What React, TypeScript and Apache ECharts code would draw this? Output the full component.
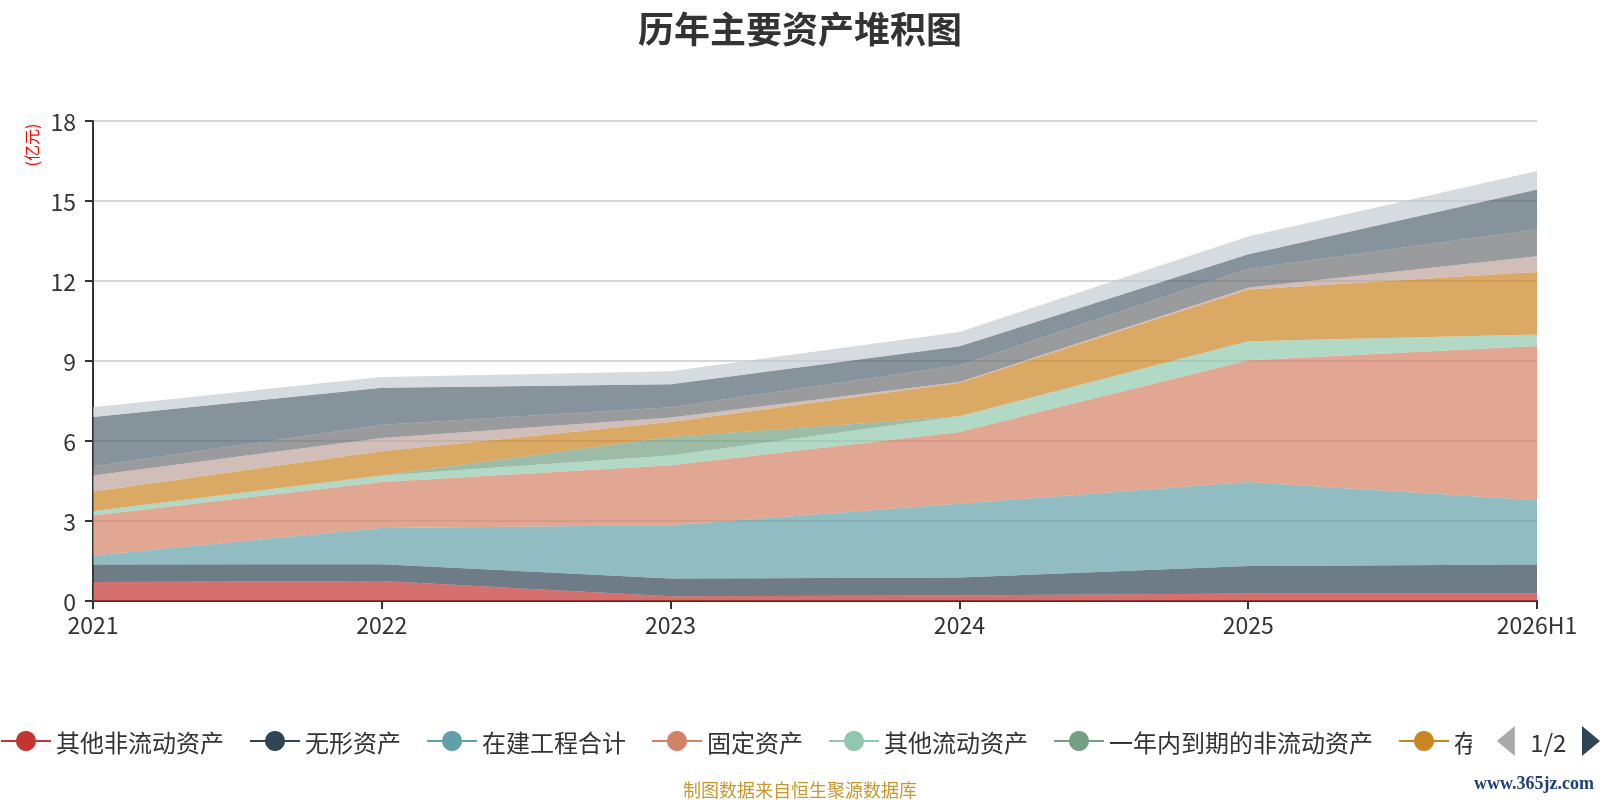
import React, { useEffect, useRef } from "react";
import * as echarts from "echarts";

const years = ["2021", "2022", "2023", "2024", "2025", "2026H1"];
const yTicks = [0, 3, 6, 9, 12, 15, 18];

// 亿元, bottom of the stack first
const otherNonCurrent = [0.71, 0.75, 0.18, 0.21, 0.28, 0.28];
const intangible = [0.66, 0.63, 0.66, 0.67, 1.03, 1.09];
const construction = [0.34, 1.36, 2.0, 2.77, 3.15, 2.41];
const fixedAssets = [1.5, 1.72, 2.25, 2.69, 4.57, 5.78];
const otherCurrent = [0.16, 0.25, 0.37, 0.59, 0.71, 0.43];
const dueWithinYear = [0, 0, 0.69, 0, 0, 0];
const inventory = [0.74, 0.91, 0.56, 1.25, 1.94, 2.35];
const receivables = [0.6, 0.49, 0.17, 0.03, 0.07, 0.59];
const notesReceivable = [0.34, 0.5, 0.39, 0.63, 0.71, 1.01];
const cash = [1.85, 1.39, 0.86, 0.71, 0.54, 1.49];
const others = [0.37, 0.4, 0.49, 0.54, 0.67, 0.69];

const seriesNames = [
  "其他非流动资产",
  "无形资产",
  "在建工程合计",
  "固定资产",
  "其他流动资产",
  "一年内到期的非流动资产",
  "存货",
  "应收账款",
  "应收票据",
  "货币资金",
  "其他",
];
const seriesValues = [
  otherNonCurrent,
  intangible,
  construction,
  fixedAssets,
  otherCurrent,
  dueWithinYear,
  inventory,
  receivables,
  notesReceivable,
  cash,
  others,
];
const palette = [
  "#c23531",
  "#2f4554",
  "#61a0a8",
  "#d48265",
  "#91c7ae",
  "#749f83",
  "#ca8622",
  "#bda29a",
  "#6e7074",
  "#546570",
  "#c4ccd3",
];

const font = "'Noto Sans CJK SC', 'Noto Sans', sans-serif";

const App = () => {
  const chartRef = useRef<HTMLDivElement>(null);

  useEffect(() => {
    if (!chartRef.current) return;
    const chart = echarts.init(chartRef.current, null, { renderer: "svg" });

    const option: echarts.EChartsOption = {
      animation: false,
      color: palette,
      textStyle: { fontFamily: font },
      title: [
        {
          text: "历年主要资产堆积图",
          left: "center",
          top: 4,
          textStyle: { fontSize: 36, fontWeight: "bold", color: "#333", fontFamily: font },
        },
        {
          text: "制图数据来自恒生聚源数据库",
          left: "center",
          top: 775,
          textStyle: { fontSize: 18, fontWeight: "normal", color: "#c8982e", fontFamily: font },
        },
      ],
      graphic: [
        {
          type: "text",
          x: 31,
          y: 145,
          rotation: Math.PI / 2,
          style: {
            text: "(亿元)",
            fill: "#ff0000",
            fontSize: 16,
            fontFamily: font,
            align: "center",
            verticalAlign: "middle",
          },
        },
        {
          type: "text",
          right: 6,
          top: 774,
          style: {
            text: "www.365jz.com",
            fill: "#1e3f78",
            fontSize: 18,
            fontWeight: "bold",
            fontFamily: "'Liberation Serif', 'DejaVu Serif', serif",
          },
        },
      ],
      legend: {
        type: "scroll",
        left: 0,
        right: 0,
        top: 721,
        padding: [5, 0],
        itemWidth: 50,
        itemHeight: 25,
        itemGap: 25,
        lineStyle: { width: 2 },
        textStyle: { fontSize: 24, color: "#333", fontFamily: font },
        pageIconSize: 30,
        pageIconColor: "#2f4554",
        pageIconInactiveColor: "#aaa",
        pageTextStyle: { fontSize: 24, color: "#333", fontFamily: font },
        data: seriesNames,
      },
      grid: {
        left: 93,
        right: 63,
        top: 121,
        bottom: 199,
      },
      xAxis: {
        type: "category",
        boundaryGap: false,
        data: years,
        axisLine: { lineStyle: { color: "#333", width: 2 } },
        axisTick: { alignWithLabel: true, length: 8, lineStyle: { color: "#333", width: 2 } },
        axisLabel: { fontSize: 23, color: "#333", margin: 11, fontFamily: font },
      },
      yAxis: {
        type: "value",
        min: yTicks[0],
        max: yTicks[yTicks.length - 1],
        interval: 3,
        axisLine: { show: true, lineStyle: { color: "#333", width: 2 } },
        axisTick: { show: true, length: 8, lineStyle: { color: "#333", width: 2 } },
        axisLabel: { fontSize: 23, color: "#333", margin: 17, fontFamily: font },
        splitLine: { lineStyle: { color: "#c8c8c8", width: 1.5 } },
      },
      series: seriesNames.map((name, i) => ({
        name,
        type: "line" as const,
        stack: "total",
        data: seriesValues[i],
        symbol: "circle",
        showSymbol: false,
        lineStyle: { width: 0 },
        areaStyle: { opacity: 0.7 },
      })),
    };

    chart.setOption(option);

    return () => {
      chart.dispose();
    };
  }, []);

  return (
    <div
      ref={chartRef}
      style={{ position: "fixed", left: 0, top: 0, width: "1600px", height: "800px" }}
    />
  );
};

export default App;
